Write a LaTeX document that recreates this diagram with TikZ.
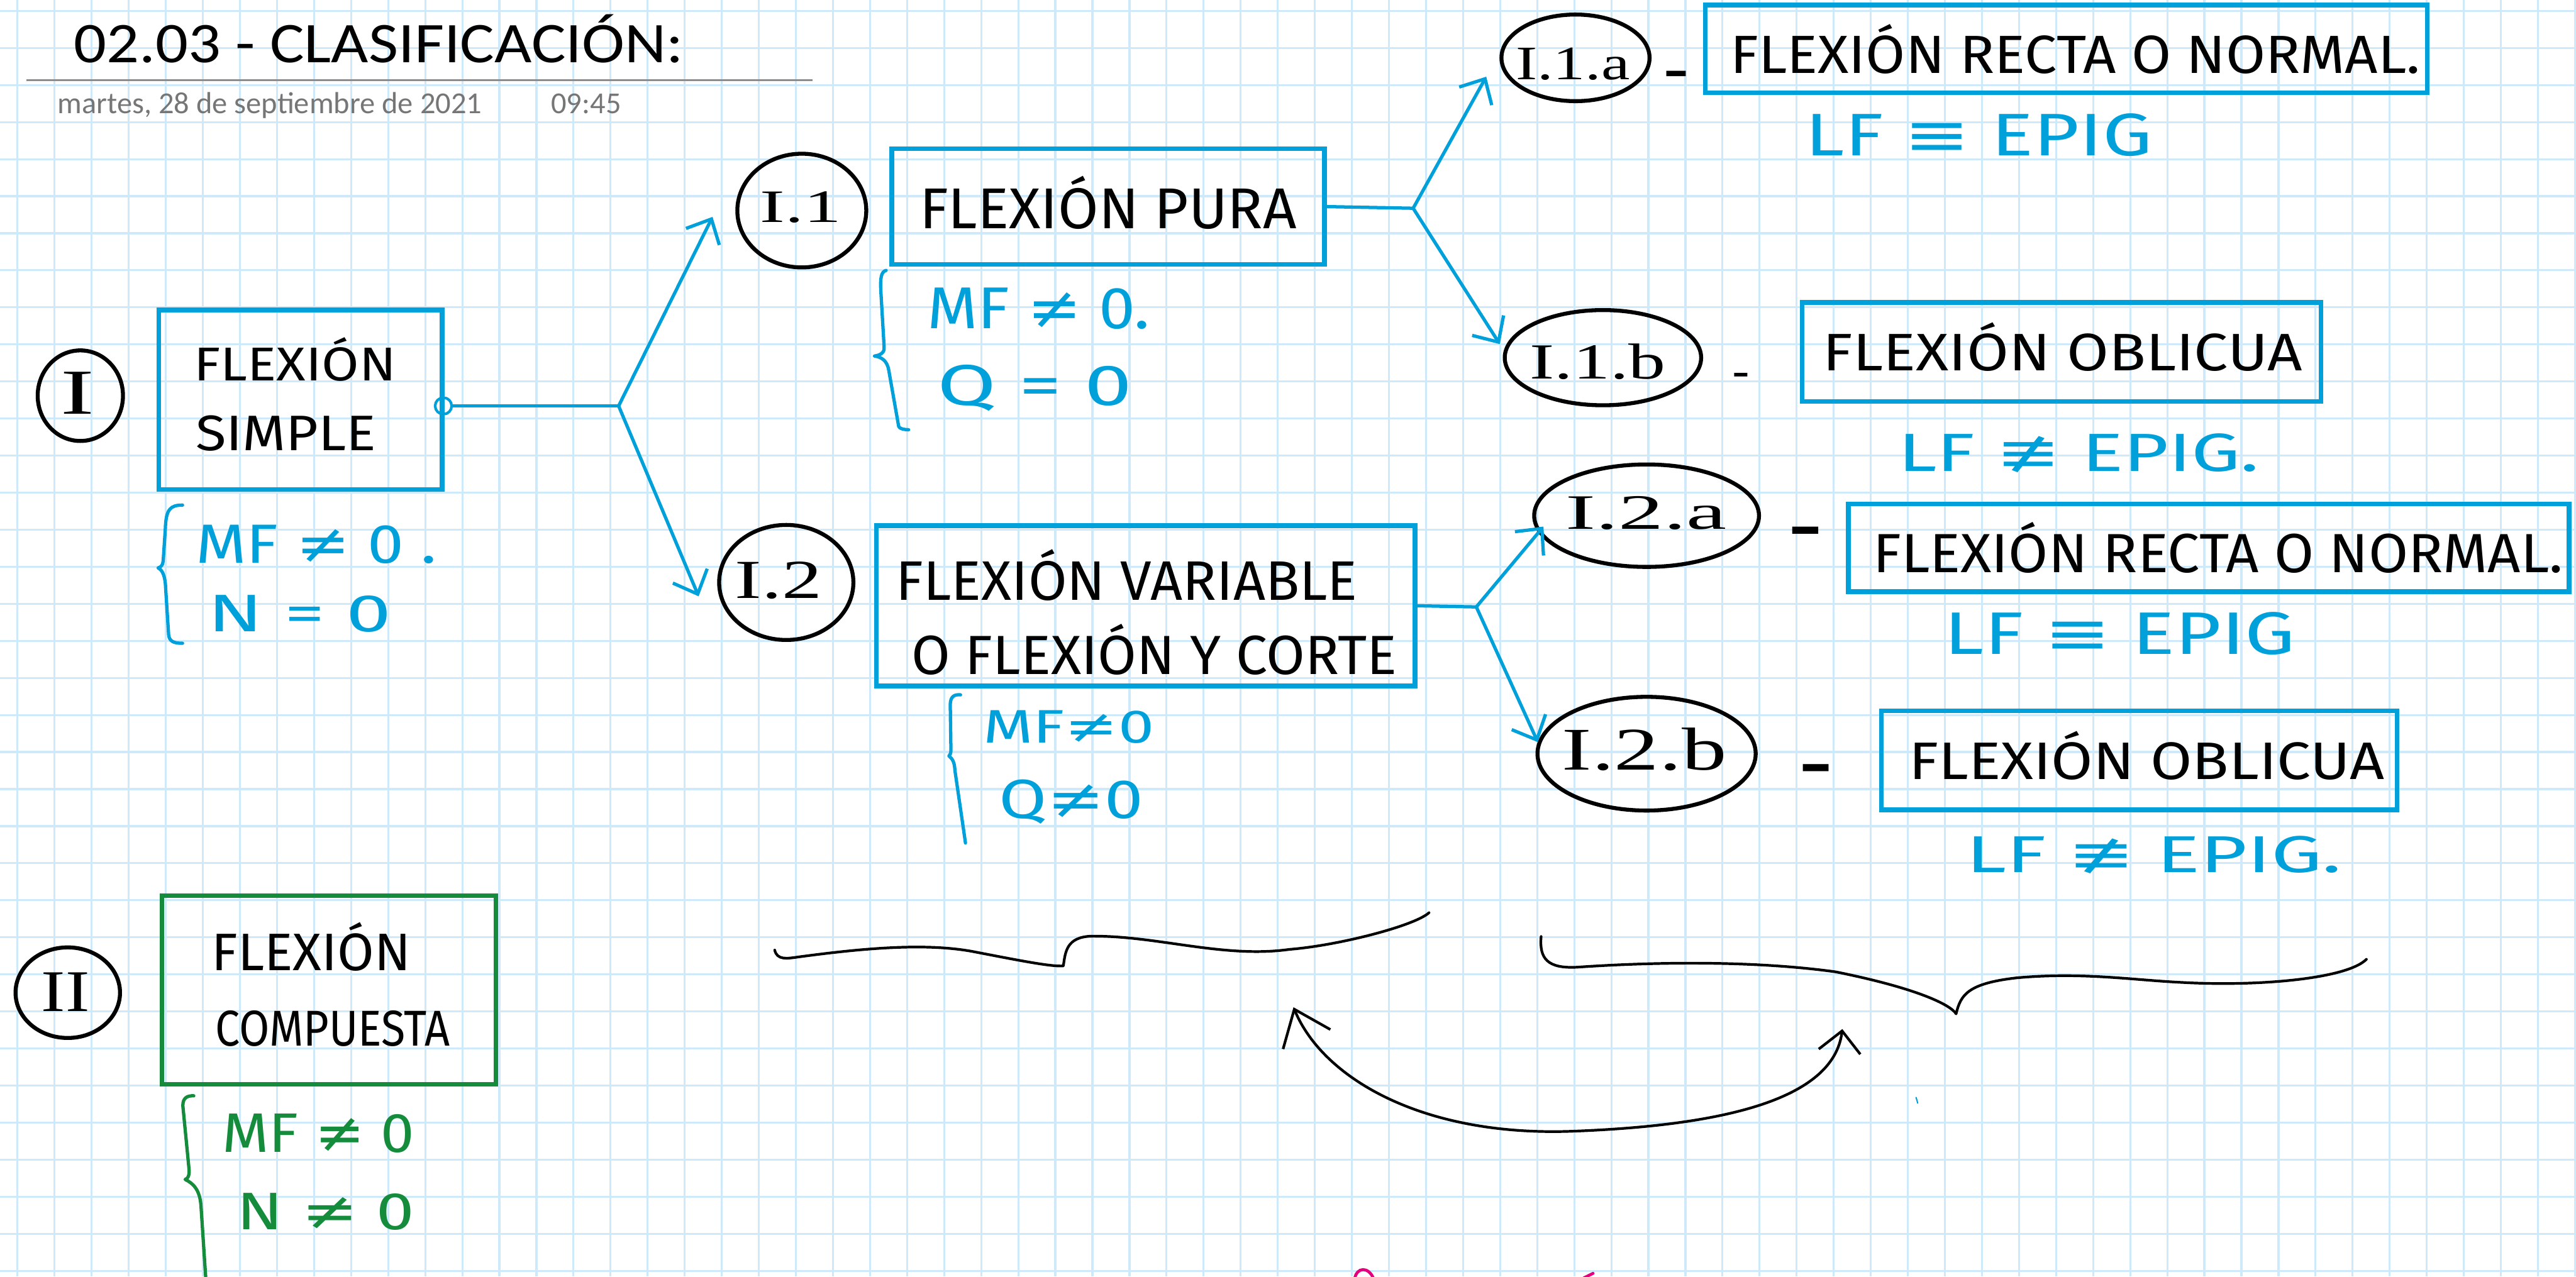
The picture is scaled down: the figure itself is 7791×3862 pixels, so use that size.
\documentclass[tikz,border=0pt]{standalone}
\usepackage{fontspec}
\setmainfont{Carlito}
\newfontfamily\titlefont[FakeStretch=1.12]{Carlito}
\newfontfamily\handfont{Fira Sans}
\newfontfamily\numfont{Liberation Serif}
\newfontfamily\symfont{DejaVu Sans}
\usetikzlibrary{arrows.meta,shapes.geometric}
\definecolor{gridblue}{RGB}{206,234,250}
\definecolor{inkblue}{RGB}{0,160,218}
\definecolor{inkgreen}{RGB}{20,140,60}
\definecolor{inkpink}{RGB}{230,0,126}
\definecolor{rulegray}{RGB}{140,140,140}
\definecolor{dategray}{RGB}{118,118,118}
\newlength\pxu
\setlength\pxu{0.01cm}
% hand-lettered text scaled to a given width and cap height (in px units)
\newcommand\hand[4][\handfont]{\resizebox{#2\pxu}{#3\pxu}{#1\vphantom{E}\smash{#4}}}
\newcommand\sNe{{\symfont ≠}}
\newcommand\sEq{{\symfont ≡}}
\newcommand\sNq{{\symfont ≢}}
\begin{document}
\begin{tikzpicture}[x=0.01cm, y=-0.01cm,
  txt/.style={anchor=base west, inner sep=0pt, outer sep=0pt},
  gridline/.style={draw=gridblue, line width=6*\pxu},
  bluebox/.style={draw=inkblue, rectangle, inner sep=0pt, line width=14*\pxu},
  greenbox/.style={draw=inkgreen, rectangle, inner sep=0pt, line width=14*\pxu},
  ring/.style={draw=black, ellipse, inner sep=0pt, line width=12*\pxu},
  bline/.style={draw=inkblue, line width=10*\pxu, line cap=round, line join=round},
  gline/.style={draw=inkgreen, line width=10*\pxu, line cap=round, line join=round},
  kline/.style={draw=black, line width=8*\pxu, line cap=round, line join=round},
  barb/.style={-{Straight Barb[length=17pt,width=32pt]}},
  dashmark/.style={anchor=base, inner sep=0pt, text=black},
]
\useasboundingbox (0,0) rectangle (7791,3862);
\fill[white] (0,0) rectangle (7791,3862);

% squared paper
\foreach \i in {0,...,69} \draw[gridline] ({53+112.1*\i},0) -- ({53+112.1*\i},3862);
\foreach \j in {0,...,34} \draw[gridline] (0,{33+112.1*\j}) -- (7791,{33+112.1*\j});

% page header
\node[txt, font=\titlefont\fontsize{49.5}{59}\selectfont] (title) at (224,190) {02.03 - CLASIFICACIÓN:};
\draw[rulegray, line width=5*\pxu] (80,243) -- (2458,243);
\node[txt, text=dategray, font=\fontsize{26.2}{31}\selectfont] (date) at (174,343) {martes, 28 de septiembre de 2021};
\node[txt, text=dategray, font=\fontsize{26.2}{31}\selectfont] (time) at (1667,343) {09:45};

% numbered rings
\node[ring, minimum width=258*\pxu, minimum height=274*\pxu] (cI) at (243,1197) {};
\node[ring, minimum width=390*\pxu, minimum height=344*\pxu] (c11) at (2425,637) {};
\node[ring, minimum width=406*\pxu, minimum height=348*\pxu] (c12) at (2378,1762) {};
\node[ring, minimum width=448*\pxu, minimum height=262*\pxu] (c11a) at (4765,175) {};
\node[ring, minimum width=594*\pxu, minimum height=288*\pxu] (c11b) at (4848,1082) {};
\node[ring, minimum width=680*\pxu, minimum height=310*\pxu] (c12a) at (4980,1560) {};
\node[ring, minimum width=660*\pxu, minimum height=344*\pxu] (c12b) at (4980,2280) {};
\node[ring, minimum width=316*\pxu, minimum height=274*\pxu] (cII) at (205,3003) {};

\node[txt] (lI) at (184,1252) {\hand[\numfont]{102}{127}{I}};
\node[txt] (l11) at (2299,672) {\hand[\numfont]{245}{92}{I.1}};
\node[txt] (l12) at (2223,1809) {\hand[\numfont]{263}{109}{I.2}};
\node[txt] (l11a) at (4584,240) {\hand[\numfont]{346}{95}{I.1.a}};
\node[txt] (l11b) at (4627,1146) {\hand[\numfont]{411}{100}{I.1.b}};
\node[txt] (l12a) at (4735,1600) {\hand[\numfont]{487}{98}{I.2.a}};
\node[txt] (l12b) at (4724,2330) {\hand[\numfont]{498}{120}{I.2.b}};
\node[txt] (lII) at (125,3059) {\hand[\numfont]{146}{117}{II}};

% dashes after the sub-case labels
\node[dashmark, font=\handfont\fontsize{59}{59}\selectfont] (d11a) at (5070,288) {-};
\node[dashmark, font=\handfont\fontsize{40}{40}\selectfont] (d11b) at (5265,1179) {-};
\node[dashmark, font=\handfont\fontsize{79}{79}\selectfont] (d12a) at (5460,1692) {-};
\node[dashmark, font=\handfont\fontsize{78}{78}\selectfont] (d12b) at (5492,2409) {-};

% boxes
\node[bluebox, minimum width=857*\pxu, minimum height=543*\pxu] (bI) at (908.5,1209.5) {};
\node[bluebox, minimum width=1309*\pxu, minimum height=350*\pxu] (b11) at (3351.5,625) {};
\node[bluebox, minimum width=1630*\pxu, minimum height=485*\pxu] (b12) at (3465,1832.5) {};
\node[bluebox, minimum width=2184*\pxu, minimum height=265*\pxu] (b11a) at (6249,147.5) {};
\node[bluebox, minimum width=1570*\pxu, minimum height=300*\pxu] (b11b) at (6235,1065) {};
\node[bluebox, minimum width=2180*\pxu, minimum height=265*\pxu] (b12a) at (6680,1657.5) {};
\node[bluebox, minimum width=1560*\pxu, minimum height=300*\pxu] (b12b) at (6470,2300) {};
\node[greenbox, minimum width=1010*\pxu, minimum height=570*\pxu] (bII) at (995,2995) {};

% box captions
\node[txt] (tI1) at (587,1152) {\hand{612}{99}{FLEXIÓN}};
\node[txt] (tI2) at (592,1363) {\hand{546}{104}{SIMPLE}};
\node[txt] (t11) at (2781,692) {\hand{1141}{120}{FLEXIÓN PURA}};
\node[txt] (t121) at (2710,1816) {\hand{1395}{116}{FLEXIÓN VARIABLE}};
\node[txt] (t122) at (2757,2040) {\hand{1468}{115}{O FLEXIÓN Y CORTE}};
\node[txt] (t11a) at (5233,222) {\hand{2087}{112}{FLEXIÓN RECTA O NORMAL.}};
\node[txt] (t11b) at (5514,1122) {\hand{1449}{110}{FLEXIÓN OBLICUA}};
\node[txt] (t12a) at (5665,1732) {\hand{2087}{115}{FLEXIÓN RECTA O NORMAL.}};
\node[txt] (t12b) at (5773,2357) {\hand{1438}{110}{FLEXIÓN OBLICUA}};
\node[txt] (tII1) at (640,2935) {\hand{602}{110}{FLEXIÓN}};
\node[txt] (tII2) at (651,3165) {\hand{710}{105}{COMPUESTA}};

% conditions
\node[txt, text=inkblue] (kI1) at (592,1703) {\hand{729}{115}{MF \sNe{} 0 .}};
\node[txt, text=inkblue] (kI2) at (628,1910) {\hand{556}{110}{N = 0}};
\node[txt, text=inkblue] (k111) at (2804,993) {\hand{674}{123}{MF \sNe{} 0.}};
\node[txt, text=inkblue] (k112) at (2835,1225) {\hand{589}{120}{Q = 0}};
\node[txt, text=inkblue] (k121) at (2973,2247) {\hand{518}{98}{MF\sNe{}0}};
\node[txt, text=inkblue] (k122) at (3021,2475) {\hand{438}{115}{Q\sNe{}0}};
\node[txt, text=inkgreen] (kII1) at (672,3485) {\hand{581}{116}{MF \sNe{} 0}};
\node[txt, text=inkgreen] (kII2) at (716,3720) {\hand{537}{110}{N \sNe{} 0}};
\node[txt, text=inkblue] (e11a) at (5460,470) {\hand{1049}{125}{LF \sEq{} EPIG}};
\node[txt, text=inkblue] (e11b) at (5741,1425) {\hand{1092}{112}{LF \sNq{} EPIG.}};
\node[txt, text=inkblue] (e12a) at (5881,1980) {\hand{1060}{125}{LF \sEq{} EPIG}};
\node[txt, text=inkblue] (e12b) at (5946,2640) {\hand{1136}{108}{LF \sNq{} EPIG.}};

% braces in front of the conditions
\draw[bline] (552,1528) .. controls (515,1528) and (502,1540) .. (500,1600) -- (494,1690) .. controls (493,1710) and (488,1715) .. (478,1718) .. controls (492,1724) and (500,1745) .. (501,1780) -- (510,1920) .. controls (512,1940) and (525,1946) .. (552,1946);
\draw[bline] (2680,818) .. controls (2665,822) and (2662,840) .. (2664,880) -- (2674,1050) .. controls (2676,1068) and (2660,1075) .. (2645,1077) .. controls (2665,1080) and (2683,1090) .. (2688,1120) -- (2718,1290) .. controls (2720,1297) and (2735,1300) .. (2748,1300);
\draw[bline] (2905,2102) .. controls (2885,2100) and (2875,2108) .. (2874,2130) -- (2876,2270) .. controls (2876,2280) and (2873,2283) .. (2870,2287) .. controls (2880,2295) and (2887,2305) .. (2888,2330) -- (2920,2550);
\draw[gline] (586,3315) .. controls (565,3314) and (553,3322) .. (553,3345) -- (572,3540) .. controls (573,3558) and (568,3565) .. (560,3568) .. controls (585,3580) and (605,3600) .. (608,3650) -- (622,3862);

% connectors
\node[draw=inkblue, circle, line width=8*\pxu, minimum size=50*\pxu, inner sep=0pt] (knot) at (1341,1228) {};
\coordinate (f1) at (1871,1228);
\coordinate (a11) at (2155,656);
\coordinate (a12) at (2113,1804);
\draw[bline] (knot) -- (f1);
\draw[bline, barb] (f1) -- (a11);
\draw[bline, barb] (f1) -- (a12);

\coordinate (f2) at (4274,630);
\coordinate (a11a) at (4495,232);
\coordinate (a11b) at (4536,1041);
\draw[bline] (b11.east) -- (f2);
\draw[bline, barb] (f2) -- (a11a);
\draw[bline, barb] (f2) -- (a11b);

\coordinate (f3) at (4465,1836);
\coordinate (a12a) at (4668,1593);
\coordinate (a12b) at (4651,2245);
\draw[bline] (b12.east) -- (f3);
\draw[bline, barb] (f3) -- (a12a);
\draw[bline, barb] (f3) -- (a12b);

% under-braces and the curved double arrow
\draw[kline] (2343,2874) .. controls (2350,2905) and (2380,2900) .. (2414,2895) .. controls (2600,2870) and (2800,2850) .. (2950,2880) .. controls (3080,2905) and (3180,2925) .. (3216,2922) .. controls (3222,2880) and (3225,2835) .. (3300,2832) .. controls (3500,2830) and (3700,2900) .. (3900,2872) .. controls (4050,2860) and (4280,2800) .. (4322,2761);
\draw[kline] (4661,2833) .. controls (4655,2900) and (4680,2930) .. (4768,2926) .. controls (5000,2910) and (5300,2905) .. (5552,2940) .. controls (5800,2990) and (5900,3040) .. (5916,3067) .. controls (5930,3010) and (5950,2975) .. (6100,2958) .. controls (6300,2940) and (6450,2965) .. (6600,2972) .. controls (6836,2985) and (7100,2960) .. (7157,2902);
\draw[kline, {Straight Barb[length=28pt,width=44pt]}-{Straight Barb[length=18pt,width=36pt]}] (3912,3047) .. controls (4000,3260) and (4300,3440) .. (4760,3422) .. controls (5200,3405) and (5545,3330) .. (5572,3113);

% stray pen marks
\draw[inkblue, line width=4*\pxu, line cap=round] (5795,3320) -- (5800,3337);
\draw[inkpink, line width=9*\pxu, line cap=round] (4097,3870) .. controls (4102,3832) and (4140,3830) .. (4155,3870);
\draw[inkpink, line width=9*\pxu, line cap=round] (4790,3866) -- (4818,3852);
\end{tikzpicture}
\end{document}
